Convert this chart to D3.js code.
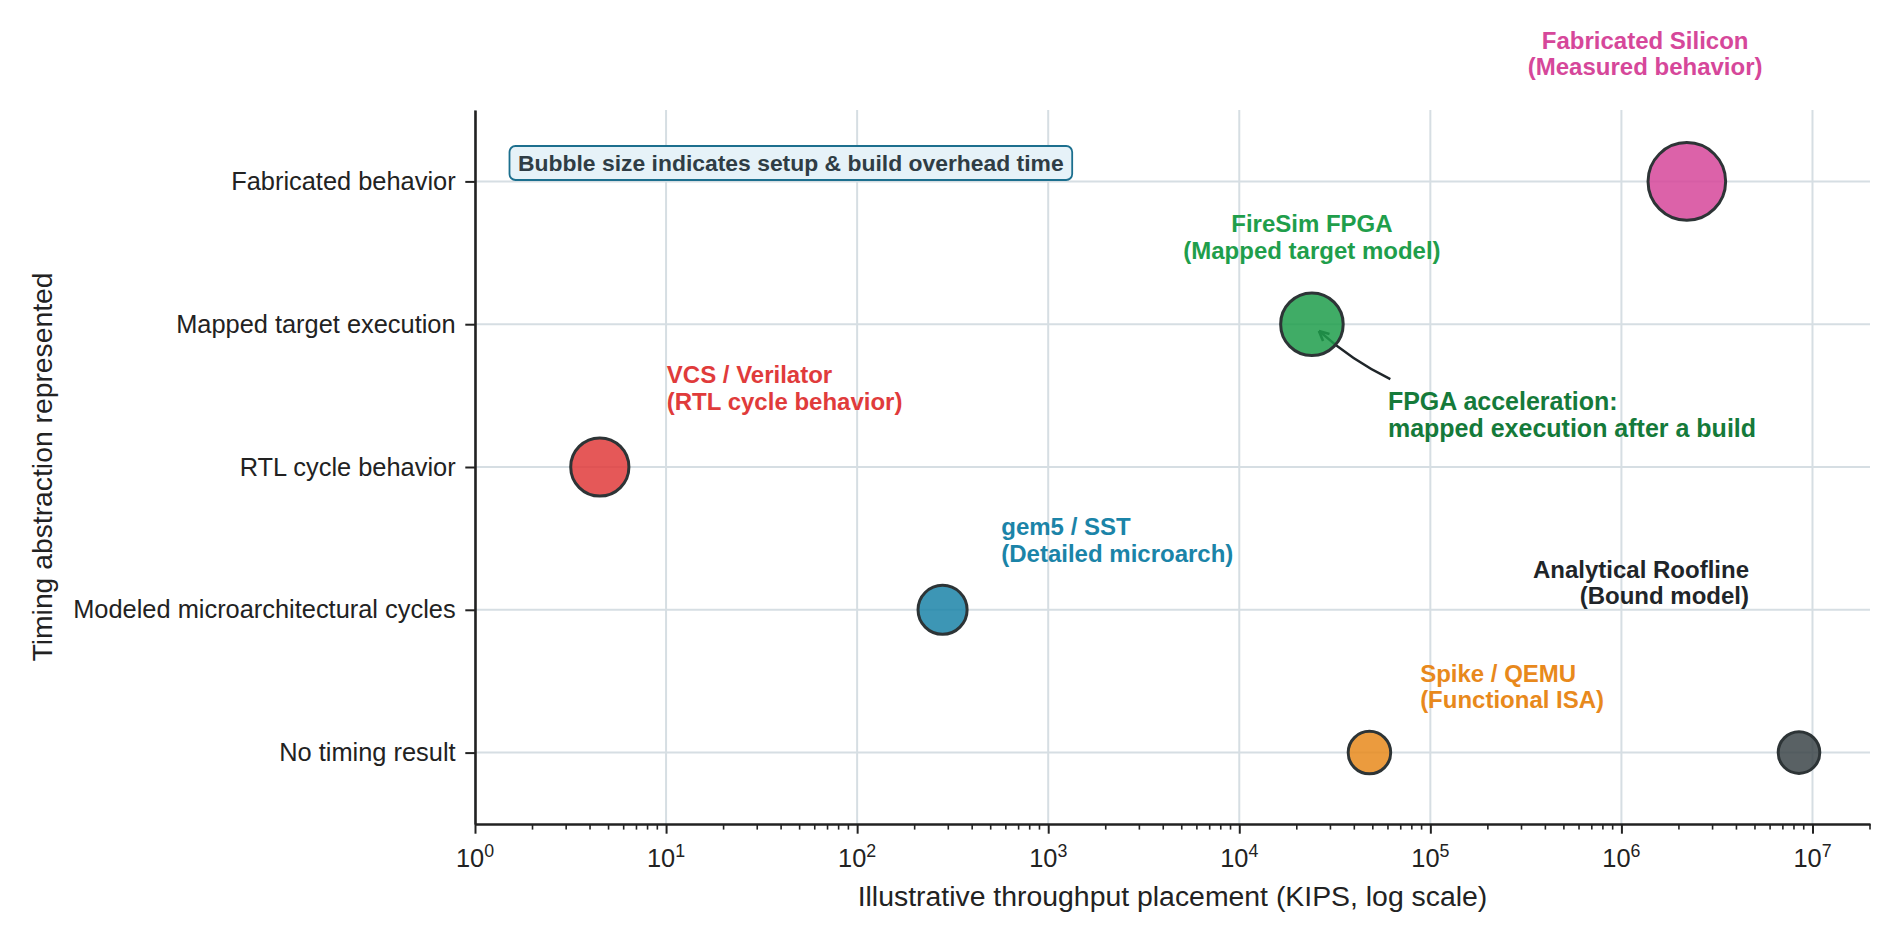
<!DOCTYPE html>
<html>
<head>
<meta charset="utf-8">
<script src="https://cdn.jsdelivr.net/npm/d3@7"></script>
<style>
  body { margin: 0; background: #ffffff; }
  text { font-family: "Liberation Sans", Arial, sans-serif; }
</style>
</head>
<body>
<div id="viz"></div>
<script>
// Width and height
var w = 1899;
var h = 945;
var margin = { top: 110, right: 29, bottom: 121, left: 475 };

// data
var tools = ["VCS / Verilator", "gem5 / SST", "FireSim FPGA", "Fabricated Silicon", "Spike / QEMU", "Analytical Roofline"];
var subtitles = ["(RTL cycle behavior)", "(Detailed microarch)", "(Mapped target model)", "(Measured behavior)", "(Functional ISA)", "(Bound model)"];
var kips = [4.5, 280, 24000, 2200000, 48000, 8500000];
var timingLevel = ["RTL cycle behavior", "Modeled microarchitectural cycles", "Mapped target execution",
                   "Fabricated behavior", "No timing result", "No timing result"];
var setupOverhead = [450, 320, 520, 800, 240, 230];   // bubble area (relative build/setup overhead)
var levels = ["No timing result", "Modeled microarchitectural cycles", "RTL cycle behavior",
              "Mapped target execution", "Fabricated behavior"];
var xTickExponents = [0, 1, 2, 3, 4, 5, 6, 7];

// layout for the labels (pixel offsets from bubble centre)
var colors = ["#e03b3b", "#1b84a8", "#1f9e4b", "#d6479a", "#e8891c", "#3c4549"];
var textColors = ["#e03b3b", "#1b84a8", "#1f9e4b", "#d6479a", "#e8891c", "#1f2529"];
var labelLayout = [
  { dx: 67, dy: -83.7, anchor: "start" },
  { dx: 58.7, dy: -74.5, anchor: "start" },
  { dx: 0, dy: -92.3, anchor: "middle" },
  { dx: -41.7, dy: -132.7, anchor: "middle" },
  { dx: 50.7, dy: -71, anchor: "start" },
  { dx: -50, dy: -175, anchor: "end" }
];

var plotW = w - margin.left - margin.right;
var plotH = h - margin.top - margin.bottom;

var x = d3.scaleLog()
    .domain([1, 2e7])
    .range([margin.left, margin.left + plotW]);

var y = d3.scalePoint()
    .domain(levels)
    .range([margin.top + plotH, margin.top])
    .padding(0.5);

var r = d3.scaleSqrt()
    .domain([0, 800])
    .range([0, 38.8]);

var svg = d3.select("#viz")
    .append("svg")
    .attr("width", w)
    .attr("height", h);

// grid
var grid = svg.append("g").attr("class", "grid");
grid.selectAll("line.vgrid")
    .data(xTickExponents)
    .enter()
    .append("line")
    .attr("x1", function(d) { return x(Math.pow(10, d)); })
    .attr("x2", function(d) { return x(Math.pow(10, d)); })
    .attr("y1", margin.top)
    .attr("y2", margin.top + plotH)
    .attr("stroke", "#d6dee3")
    .attr("stroke-width", 2);
grid.selectAll("line.hgrid")
    .data(levels)
    .enter()
    .append("line")
    .attr("x1", margin.left)
    .attr("x2", margin.left + plotW)
    .attr("y1", function(d) { return y(d); })
    .attr("y2", function(d) { return y(d); })
    .attr("stroke", "#d6dee3")
    .attr("stroke-width", 2);

// x axis
var xAxis = d3.axisBottom(x)
    .tickValues(xTickExponents.map(function(e) { return Math.pow(10, e); }))
    .tickSize(9.7)
    .tickSizeOuter(0)
    .tickFormat("");

var gx = svg.append("g")
    .attr("transform", "translate(0," + (margin.top + plotH) + ")")
    .call(xAxis);

// minor ticks
var minorTicks = x.ticks().filter(function(v) {
    var e = Math.log10(v);
    return Math.abs(e - Math.round(e)) > 1e-9;
});
gx.selectAll("line.minor")
    .data(minorTicks)
    .enter()
    .append("line")
    .attr("class", "minor")
    .attr("x1", function(d) { return x(d); })
    .attr("x2", function(d) { return x(d); })
    .attr("y1", 0)
    .attr("y2", 5.6)
    .attr("stroke", "#222");
gx.selectAll(".tick line").attr("stroke", "#222").attr("stroke-width", 2);
gx.selectAll("line.minor").attr("stroke-width", 1.6);
gx.select(".domain").attr("stroke", "#222").attr("stroke-width", 2.6);

var xLabels = gx.selectAll("text.xlab")
    .data(xTickExponents)
    .enter()
    .append("text")
    .attr("class", "xlab")
    .attr("x", function(d) { return x(Math.pow(10, d)); })
    .attr("y", 42.5)
    .attr("text-anchor", "middle")
    .attr("font-size", 25.4)
    .attr("fill", "#222");
xLabels.append("tspan").text("10");
xLabels.append("tspan")
    .attr("dy", -10)
    .attr("font-size", 17.8)
    .text(function(d) { return d; });

// y axis
var yAxis = d3.axisLeft(y)
    .tickSize(9.7)
    .tickSizeOuter(0)
    .tickPadding(9.7);

var gy = svg.append("g")
    .attr("transform", "translate(" + margin.left + ",0)")
    .call(yAxis);
gy.select(".domain").attr("stroke", "#222").attr("stroke-width", 2.6);
gy.selectAll(".tick line").attr("stroke", "#222").attr("stroke-width", 2);
gy.selectAll(".tick text")
    .attr("font-size", 25.4)
    .attr("fill", "#222")
    .attr("font-family", "'Liberation Sans', Arial, sans-serif");

// axis titles
svg.append("text")
    .attr("x", margin.left + plotW / 2)
    .attr("y", 906)
    .attr("text-anchor", "middle")
    .attr("font-size", 28.4)
    .attr("fill", "#222")
    .text("Illustrative throughput placement (KIPS, log scale)");

svg.append("text")
    .attr("transform", "translate(52," + (margin.top + plotH / 2) + ") rotate(-90)")
    .attr("text-anchor", "middle")
    .attr("font-size", 28.3)
    .attr("fill", "#222")
    .text("Timing abstraction represented");

// note box
var note = svg.append("g").attr("class", "note");
var noteText = note.append("text")
    .attr("x", 518)
    .attr("y", 170.8)
    .attr("font-size", 22.9)
    .attr("font-weight", "bold")
    .attr("fill", "#2f3d45")
    .text("Bubble size indicates setup & build overhead time");
var bb = noteText.node().getBBox();
note.insert("rect", "text")
    .attr("x", bb.x - 8.5)
    .attr("y", 146)
    .attr("width", bb.width + 17)
    .attr("height", 34)
    .attr("rx", 6)
    .attr("fill", "#e6f2f8")
    .attr("stroke", "#1c6f8e")
    .attr("stroke-width", 1.8);

// annotation arrow for FireSim (drawn under bubble)
var gi = 2;
var gxp = x(kips[gi]), gyp = y(timingLevel[gi]);
var tail = [gxp + 78.4, gyp + 55];
var tip = [gxp + 7, gyp + 6.7];
var mid = [(tail[0] + tip[0]) / 2, (tail[1] + tip[1]) / 2];
var ctrl = [mid[0] - 3.4, mid[1] + 5];
var arrowPath = d3.path();
arrowPath.moveTo(tail[0], tail[1]);
arrowPath.quadraticCurveTo(ctrl[0], ctrl[1], tip[0], tip[1]);
svg.append("path")
    .attr("d", arrowPath.toString())
    .attr("fill", "none")
    .attr("stroke", "#1f2529")
    .attr("stroke-width", 2.6);
var ang = Math.atan2(tip[1] - ctrl[1], tip[0] - ctrl[0]);
[0.45, -0.45].forEach(function(a) {
    svg.append("line")
        .attr("x1", tip[0])
        .attr("y1", tip[1])
        .attr("x2", tip[0] - 11 * Math.cos(ang + a))
        .attr("y2", tip[1] - 11 * Math.sin(ang + a))
        .attr("stroke", "#1f2529")
        .attr("stroke-width", 2.6);
});

// bubbles
svg.selectAll("circle.bubble")
    .data(tools)
    .enter()
    .append("circle")
    .attr("class", "bubble")
    .attr("cx", function(d, i) { return x(kips[i]); })
    .attr("cy", function(d, i) { return y(timingLevel[i]); })
    .attr("r", function(d, i) { return r(setupOverhead[i]); })
    .attr("fill", function(d, i) { return colors[i]; })
    .attr("fill-opacity", 0.85)
    .attr("stroke", "#2d3436")
    .attr("stroke-width", 3);

// labels
var labels = svg.selectAll("text.label")
    .data(tools)
    .enter()
    .append("text")
    .attr("class", "label")
    .attr("x", function(d, i) { return x(kips[i]) + labelLayout[i].dx; })
    .attr("y", function(d, i) { return y(timingLevel[i]) + labelLayout[i].dy; })
    .attr("text-anchor", function(d, i) { return labelLayout[i].anchor; })
    .attr("font-size", 24)
    .attr("font-weight", "bold")
    .attr("fill", function(d, i) { return textColors[i]; });
labels.append("tspan").text(function(d) { return d; });
labels.append("tspan")
    .attr("x", function(d, i) { return x(kips[i]) + labelLayout[i].dx; })
    .attr("dy", 26.6)
    .text(function(d, i) { return subtitles[i]; });

// FPGA annotation text
var ann = svg.append("text")
    .attr("x", gxp + 76)
    .attr("y", gyp + 86)
    .attr("font-size", 25)
    .attr("font-weight", "bold")
    .attr("fill", "#157a3a");
ann.append("tspan").text("FPGA acceleration:");
ann.append("tspan").attr("x", gxp + 76).attr("dy", 26.4).text("mapped execution after a build");
</script>
</body>
</html>
